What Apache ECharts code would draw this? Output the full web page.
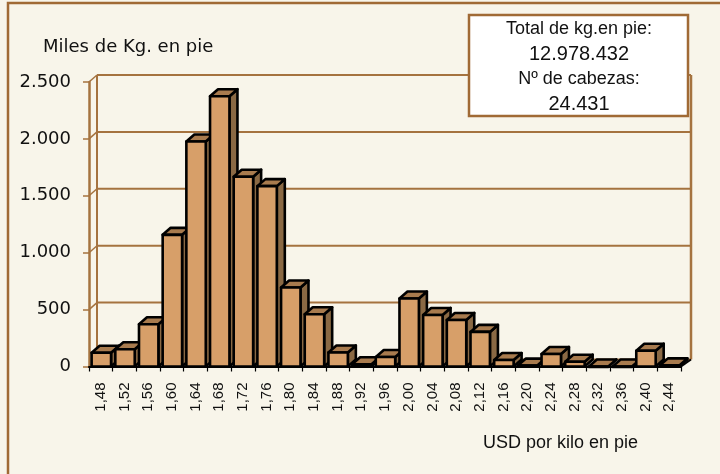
<!DOCTYPE html>
<html>
<head>
<meta charset="utf-8">
<script src="https://cdn.jsdelivr.net/npm/echarts@6/dist/echarts.min.js"></script>
<style>
html,body{margin:0;padding:0;background:#F8F5EA;}
#chart{width:720px;height:474px;}
</style>
</head>
<body>
<div id="chart"></div>
<script>
// ---- data ----
const categories = ['1,48','1,52','1,56','1,60','1,64','1,68','1,72','1,76','1,80','1,84','1,88','1,92','1,96',
  '2,00','2,04','2,08','2,12','2,16','2,20','2,24','2,28','2,32','2,36','2,40','2,44'];
const values = [121, 151, 371, 1157, 1977, 2375, 1668, 1585, 694, 459, 123, 20, 83,
  597, 453, 409, 304, 57, 8, 110, 42, 0, 0, 139, 10];
const yTicks = [0, 500, 1000, 1500, 2000, 2500];
const yTitle = 'Miles de Kg. en pie';
const xTitle = 'USD por kilo en pie';
const boxLines = ['Total de kg.en pie:', '12.978.432', 'Nº de cabezas:', '24.431'];

// ---- style ----
const DX = 8, DY = 7;
const wallColor = '#A5733F';
const frontColor = '#D79F69', topColor = '#A87B4E', sideColor = '#8A6944';

const chart = echarts.init(document.getElementById('chart'), null, {renderer: 'canvas'});

function fmt(v) {
  return String(v).replace(/\B(?=(\d{3})+(?!\d))/g, '.');
}

function bandEdges(api) {
  const bw = api.size([1, 0])[0];
  const xL = api.coord([0, 0])[0] - bw / 2;
  const xR = api.coord([categories.length - 1, 0])[0] + bw / 2;
  return {xL, xR, bw};
}

const boxText = (t, y, size) => ({
  type: 'text', x: 579, y: y, z: 201,
  style: {text: t, align: 'center', verticalAlign: 'middle',
          font: size + 'px "Liberation Sans"', fill: '#111'}
});

const option = {
  backgroundColor: '#F8F5EA',
  animation: false,
  title: [
    {text: yTitle, left: 38, top: 33,
     textStyle: {fontFamily: 'DejaVu Sans', fontSize: 18, fontWeight: 'normal', color: '#111'}},
    {text: xTitle, left: 478, top: 429,
     textStyle: {fontFamily: 'Liberation Sans', fontSize: 18, fontWeight: 'normal', color: '#111'}}
  ],
  grid: {left: 89, top: 82, width: 592, bottom: 107.5, containLabel: false},
  xAxis: {
    type: 'category',
    data: categories,
    axisLine: {show: true, lineStyle: {color: '#000', width: 2}},
    axisTick: {show: true, length: 5, lineStyle: {color: '#000', width: 1.2}},
    axisLabel: {interval: 0, rotate: 90, margin: 16, fontFamily: 'Liberation Sans', fontSize: 15, color: '#111'},
    splitLine: {show: false},
    z: 5
  },
  yAxis: {
    type: 'value',
    min: 0, max: 2500, interval: 500,
    axisLine: {show: true, lineStyle: {color: wallColor, width: 2.5}},
    axisTick: {show: true, length: 6, lineStyle: {color: wallColor, width: 1.5}},
    axisLabel: {margin: 18, fontFamily: 'DejaVu Sans', fontSize: 18, color: '#111', formatter: fmt},
    splitLine: {show: false}
  },
  graphic: [
    {type: 'rect', shape: {x: 8, y: 3, width: 900, height: 700}, z: 200,
     style: {fill: 'none', stroke: '#A06A35', lineWidth: 2.5}, silent: true},
    {type: 'rect', shape: {x: 469, y: 15, width: 219, height: 101}, z: 200,
     style: {fill: '#fff', stroke: '#A06A35', lineWidth: 2.5}},
    boxText(boxLines[0], 29, 18),
    boxText(boxLines[1], 54, 20),
    boxText(boxLines[2], 79, 18),
    boxText(boxLines[3], 104, 20)
  ],
  series: [
    { // walls: gridlines on back wall and left-wall diagonals
      type: 'custom',
      data: yTicks.map(v => [0, v]),
      clip: false,
      silent: true,
      z: 1,
      renderItem: function (params, api) {
        const e = bandEdges(api);
        const y = api.coord([0, api.value(1)])[1];
        return {type: 'group', children: [
          {type: 'line', shape: {x1: e.xL + DX, y1: y - DY, x2: e.xR + DX + 2, y2: y - DY},
           style: {stroke: wallColor, lineWidth: 2}},
          {type: 'line', shape: {x1: e.xL, y1: y, x2: e.xL + DX, y2: y - DY},
           style: {stroke: wallColor, lineWidth: 1.5}}
        ]};
      }
    },
    { // wall verticals and floor right edge
      type: 'custom',
      data: [[0, yTicks[yTicks.length - 1]]],
      clip: false,
      silent: true,
      z: 1,
      renderItem: function (params, api) {
        const e = bandEdges(api);
        const yT = api.coord([0, api.value(1)])[1];
        const y0 = api.coord([0, 0])[1];
        return {type: 'group', children: [
          {type: 'line', shape: {x1: e.xL + DX, y1: yT - DY, x2: e.xL + DX, y2: y0 - DY},
           style: {stroke: wallColor, lineWidth: 2}},
          {type: 'line', shape: {x1: e.xR + DX + 2, y1: yT - DY, x2: e.xR + DX + 2, y2: y0 - DY},
           style: {stroke: wallColor, lineWidth: 2.5}},
          {type: 'line', shape: {x1: e.xR, y1: y0, x2: e.xR + DX + 2, y2: y0 - DY},
           style: {stroke: '#000', lineWidth: 2}}
        ]};
      }
    },
    { // 3D bars
      type: 'custom',
      data: values.map((v, i) => [i, v]),
      clip: false,
      z: 3,
      renderItem: function (params, api) {
        const idx = api.value(0), val = api.value(1);
        const p0 = api.coord([idx, 0]);
        const p1 = api.coord([idx, val]);
        const bw = api.size([1, 0])[0];
        const w = bw * 0.82;
        const x0 = p0[0] - w / 2 + 0.5;
        const yb = p0[1], yt = p1[1];
        const stroke = {stroke: '#000', lineWidth: 2.6, lineJoin: 'round'};
        return {type: 'group', children: [
          {type: 'polygon', shape: {points: [[x0 + w, yt], [x0 + w + DX, yt - DY], [x0 + w + DX, yb - DY], [x0 + w, yb]]},
           style: Object.assign({fill: sideColor}, stroke)},
          {type: 'polygon', shape: {points: [[x0, yt], [x0 + DX, yt - DY], [x0 + w + DX, yt - DY], [x0 + w, yt]]},
           style: Object.assign({fill: topColor}, stroke)},
          {type: 'rect', shape: {x: x0, y: yt, width: w, height: Math.max(yb - yt, 0.5)},
           style: Object.assign({fill: frontColor}, stroke)}
        ]};
      }
    }
  ]
};
chart.setOption(option);
</script>
</body>
</html>
